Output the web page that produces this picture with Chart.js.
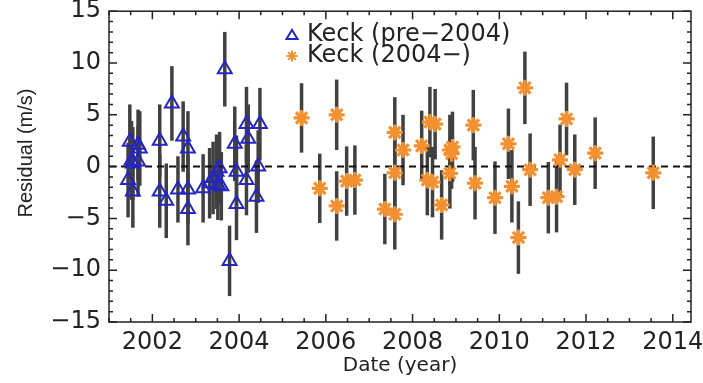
<!DOCTYPE html>
<html>
<head>
<meta charset="utf-8">
<script src="https://cdn.jsdelivr.net/npm/chart.js@4/dist/chart.umd.min.js"></script>
<style>
  html, body { margin: 0; padding: 0; background: #fff; }
  #residualChart { display: block; }
</style>
</head>
<body>
<canvas id="residualChart" width="703" height="383"></canvas>
<script>
// Keck (pre-2004)
const preYears = [2001.48, 2001.52, 2001.55, 2001.44, 2001.55, 2001.67, 2001.71, 2001.67,
  2002.17, 2002.17, 2002.32, 2002.45, 2002.59, 2002.71, 2002.82, 2002.82, 2002.82,
  2003.17, 2003.32, 2003.40, 2003.48, 2003.51, 2003.55, 2003.59, 2003.67, 2003.78,
  2003.90, 2003.94, 2003.94, 2004.17, 2004.21, 2004.17, 2004.40, 2004.44, 2004.48];
const preResiduals = [2.4, 0.6, 0.3, -1.3, -2.4, 2.1, 1.75, 0.5,
  2.5, -2.4, -3.3, 6.1, -2.2, 2.9, 1.75, -2.2, -4.1,
  -2.1, -1.6, -1.1, -0.5, -1.75, -0.15, -1.9, 9.4, -9.1,
  2.2, -0.5, -3.6, 4.1, 2.7, -1.3, -2.9, 0.0, 4.1];
const preErrors = [3.6, 3.8, 3.5, 3.6, 3.5, 3.4, 3.6, 3.4,
  3.5, 3.5, 3.6, 3.6, 3.2, 3.4, 3.6, 3.3, 3.5,
  3.3, 3.4, 3.5, 3.6, 3.4, 3.5, 3.3, 3.6, 3.4,
  3.6, 3.5, 3.5, 3.6, 3.3, 3.4, 3.5, 3.5, 3.5];

// Keck (2004-)
const postYears = [2005.44, 2006.25, 2005.86, 2006.25, 2006.48, 2006.67, 2007.36, 2007.59,
  2007.59, 2007.59, 2007.78, 2008.21, 2008.40, 2008.52, 2008.34, 2008.46, 2008.67,
  2008.86, 2008.90, 2008.86, 2008.92,
  2009.40, 2009.44, 2009.90, 2010.21, 2010.29, 2010.44, 2010.59, 2010.71,
  2011.13, 2011.32, 2011.40, 2011.55, 2011.74, 2012.21, 2013.55];
const postResiduals = [4.7, 5.0, -2.1, -3.8, -1.4, -1.3, -4.1, -4.6,
  3.3, -0.6, 1.6, 2.0, 4.3, 4.1, -1.3, -1.5, -3.7,
  1.6, 1.25, -0.65, 1.9,
  4.0, -1.6, -3.0, 2.2, -1.9, -6.85, 7.6, -0.3,
  -3.0, -2.9, 0.65, 4.6, -0.3, 1.3, -0.6];
const postErrors = [3.35, 3.4, 3.35, 3.35, 3.35, 3.35, 3.4, 3.4,
  3.4, 3.4, 3.4, 3.4, 3.4, 3.4, 3.4, 3.4, 3.35,
  3.4, 3.4, 3.4, 3.4,
  3.4, 3.5, 3.5, 3.4, 3.5, 3.5, 3.5, 3.5,
  3.45, 3.45, 3.4, 3.5, 3.4, 3.45, 3.5];

const xTickYears = [2002, 2004, 2006, 2008, 2010, 2012, 2014];
const yTickValues = [-15, -10, -5, 0, 5, 10, 15];
const seriesLabels = ['Keck (pre\u22122004)', 'Keck (2004\u2212)'];

const BLUE = '#2525c4';
const ORANGE = '#f39030';
const TICK_FONT = { family: '"DejaVu Sans", sans-serif', size: 24 };

// Monta os pontos a partir dos arrays
function toPoints(xs, ys) {
  return xs.map((x, i) => ({ x: x, y: ys[i] }));
}

// Barras de erro (desenhadas antes dos marcadores)
const errorBarPlugin = {
  id: 'errorBars',
  beforeDatasetsDraw(chart) {
    const ctx = chart.ctx;
    const xs = chart.scales.x, ys = chart.scales.y;
    const errSets = [preErrors, postErrors];
    ctx.save();
    ctx.strokeStyle = '#404040';
    ctx.lineWidth = 3.5;
    chart.data.datasets.forEach((ds, d) => {
      ds.data.forEach((p, i) => {
        const e = errSets[d][i];
        const px = xs.getPixelForValue(p.x);
        ctx.beginPath();
        ctx.moveTo(px, ys.getPixelForValue(p.y + e));
        ctx.lineTo(px, ys.getPixelForValue(p.y - e));
        ctx.stroke();
      });
    });
    // linha tracejada em zero
    const y0 = ys.getPixelForValue(0);
    ctx.strokeStyle = '#111';
    ctx.lineWidth = 2;
    ctx.setLineDash([7, 5]);
    ctx.beginPath();
    ctx.moveTo(chart.chartArea.left, y0);
    ctx.lineTo(chart.chartArea.right, y0);
    ctx.stroke();
    ctx.restore();
  }
};

// Moldura, ticks internos, legenda e títulos
const framePlugin = {
  id: 'frame',
  afterDraw(chart) {
    const ctx = chart.ctx;
    const a = chart.chartArea;
    const xs = chart.scales.x, ys = chart.scales.y;
    ctx.save();
    ctx.strokeStyle = '#222';
    ctx.lineWidth = 1.5;
    ctx.strokeRect(a.left, a.top, a.right - a.left, a.bottom - a.top);

    // ticks do eixo x (a cada 0.5 ano)
    for (let v = Math.ceil(xs.min * 2) / 2; v <= xs.max; v += 0.5) {
      const px = xs.getPixelForValue(v);
      const len = (v % 2 === 0) ? 8 : 4;
      ctx.beginPath();
      ctx.moveTo(px, a.bottom); ctx.lineTo(px, a.bottom - len);
      ctx.moveTo(px, a.top); ctx.lineTo(px, a.top + len);
      ctx.stroke();
    }
    // ticks do eixo y (a cada 1 m/s)
    for (let v = ys.min; v <= ys.max; v += 1) {
      const py = ys.getPixelForValue(v);
      const len = (v % 5 === 0) ? 8 : 4;
      ctx.beginPath();
      ctx.moveTo(a.left, py); ctx.lineTo(a.left + len, py);
      ctx.moveTo(a.right, py); ctx.lineTo(a.right - len, py);
      ctx.stroke();
    }

    // legenda
    const lx = 292, ly = [35, 56];
    ctx.strokeStyle = BLUE;
    ctx.lineWidth = 2;
    ctx.beginPath();
    ctx.moveTo(lx, ly[0] - 5);
    ctx.lineTo(lx + 5.5, ly[0] + 4);
    ctx.lineTo(lx - 5.5, ly[0] + 4);
    ctx.closePath();
    ctx.stroke();
    ctx.strokeStyle = ORANGE;
    ctx.fillStyle = ORANGE;
    Chart.helpers.drawPoint(ctx, { pointStyle: 'star', radius: 5.5, borderWidth: 2.5 }, lx, ly[1]);

    ctx.font = '24px "DejaVu Sans", sans-serif';
    ctx.textBaseline = 'middle';
    ctx.textAlign = 'left';
    ctx.fillStyle = '#222';
    ctx.fillText(seriesLabels[0], 307, ly[0]);
    ctx.fillText(seriesLabels[1], 307, ly[1]);

    // títulos dos eixos
    ctx.font = '20px "DejaVu Sans", sans-serif';
    ctx.textAlign = 'center';
    ctx.fillText('Date (year)', (a.left + a.right) / 2, 366);
    ctx.save();
    ctx.translate(26, 153);
    ctx.rotate(-Math.PI / 2);
    ctx.font = '20px "Liberation Sans", Arial, sans-serif';
    ctx.fillText('Residual (m/s)', 0, 0);
    ctx.restore();
    ctx.restore();
  }
};

function initResidualChart() {
  const ctx = document.getElementById('residualChart').getContext('2d');
  new Chart(ctx, {
    type: 'scatter',
    data: {
      datasets: [{
        label: seriesLabels[0],
        data: toPoints(preYears, preResiduals),
        pointStyle: 'triangle',
        pointRadius: 8,
        pointBorderWidth: 2,
        borderColor: BLUE,
        backgroundColor: 'rgba(0,0,0,0)'
      }, {
        label: seriesLabels[1],
        data: toPoints(postYears, postResiduals),
        pointStyle: 'star',
        pointRadius: 8,
        pointBorderWidth: 3.2,
        borderColor: ORANGE,
        backgroundColor: ORANGE
      }]
    },
    options: {
      responsive: false,
      animation: false,
      layout: { padding: { top: 8, right: 12, left: 0, bottom: 0 } },
      plugins: {
        legend: { display: false },
        tooltip: { enabled: false }
      },
      scales: {
        x: {
          type: 'linear',
          min: 2001.0,
          max: 2014.42,
          grid: { display: false, drawTicks: false },
          border: { display: false },
          ticks: {
            font: TICK_FONT,
            color: '#222',
            padding: 6,
            maxRotation: 0,
            callback: v => String(v)
          },
          afterBuildTicks: s => { s.ticks = xTickYears.map(v => ({ value: v })); },
          afterFit: s => { s.height = 61; s.paddingLeft = 0; s.paddingRight = 0; }
        },
        y: {
          min: -15,
          max: 15,
          grid: { display: false, drawTicks: false },
          border: { display: false },
          ticks: {
            font: TICK_FONT,
            color: '#222',
            padding: 8,
            callback: v => (v < 0 ? '\u2212' + Math.abs(v) : String(v))
          },
          afterBuildTicks: s => { s.ticks = yTickValues.map(v => ({ value: v })); },
          afterFit: s => { s.width = 109; s.paddingTop = 0; s.paddingBottom = 0; }
        }
      }
    },
    plugins: [errorBarPlugin, framePlugin]
  });
}

window.onload = function() {
  initResidualChart();
};
</script>
</body>
</html>
